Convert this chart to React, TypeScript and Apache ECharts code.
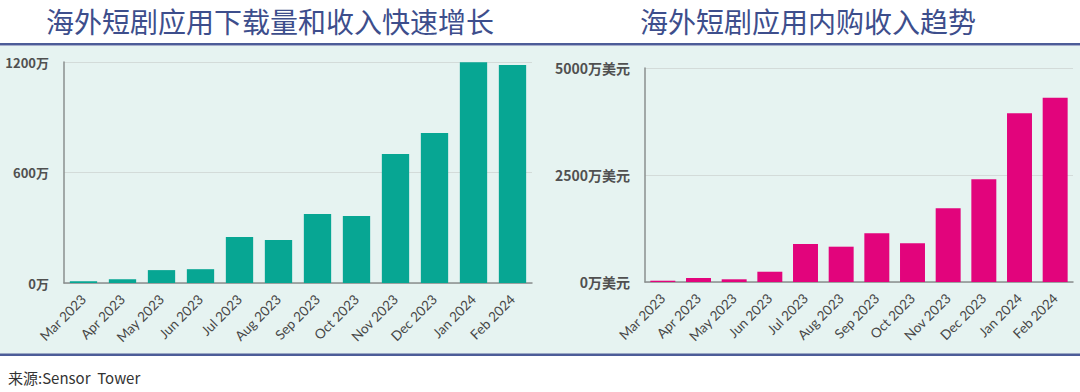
import React, { useEffect, useRef } from "react";
import * as echarts from "echarts";

const months = ["Mar 2023", "Apr 2023", "May 2023", "Jun 2023", "Jul 2023", "Aug 2023", "Sep 2023", "Oct 2023", "Nov 2023", "Dec 2023", "Jan 2024", "Feb 2024"];
const downloads = [10, 20, 70, 75, 250, 233, 375, 364, 700, 815, 1198, 1184];
const revenue = [30, 93, 63, 240, 888, 825, 1138, 904, 1722, 2400, 3942, 4306];
const leftTicks = [0, 600, 1200];
const rightTicks = [0, 2500, 5000];
const leftTitle = "海外短剧应用下载量和收入快速增长";
const rightTitle = "海外短剧应用内购收入趋势";
const sourceText = "来源:Sensor  Tower";

const FONT = "'Noto Sans CJK SC', 'Noto Sans', sans-serif";

export default function App() {
  const ref = useRef<HTMLDivElement>(null);
  useEffect(() => {
    document.body.style.margin = "0";
    const chart = echarts.init(ref.current!, null, { renderer: "svg" });
    const xAxisCommon = (gi: number) => ({
      type: "category",
      gridIndex: gi,
      data: months,
      axisTick: { show: false },
      axisLine: { lineStyle: { color: "#8a8f8e", width: 1.5 } },
      axisLabel: { rotate: 45, fontSize: 13.5, color: "#474747", margin: 14, interval: 0, fontFamily: "Lato, 'Noto Sans', sans-serif" },
    });
    const yAxisCommon = (gi: number, ticks: number[], suffix: string, size: number) => ({
      type: "value",
      gridIndex: gi,
      min: ticks[0],
      max: ticks[ticks.length - 1],
      interval: ticks[1] - ticks[0],
      axisLine: { show: true, lineStyle: { color: "#8a8f8e", width: 1.5 } },
      axisTick: { show: false },
      splitLine: { lineStyle: { color: "#d3dbd9", width: 1 } },
      axisLabel: {
        fontSize: size,
        color: "#505050",
        fontWeight: "bold",
        margin: 15,
        fontFamily: FONT,
        formatter: (v: number) => `${v}${suffix}`,
      },
    });
    chart.setOption({
      animation: false,
      graphic: [
        { type: "rect", shape: { x: 0, y: 46, width: 1080, height: 308 }, style: { fill: "#e6f3f1" }, z: -10 },
        { type: "rect", shape: { x: 0, y: 43, width: 1080, height: 2.5 }, style: { fill: "#4c5c98" } },
        { type: "rect", shape: { x: 0, y: 353.5, width: 1080, height: 2.5 }, style: { fill: "#4c5c98" } },
        { type: "text", x: 270, y: 21, style: { text: leftTitle, font: `28px ${FONT}`, fill: "#3d4e8c", align: "center", verticalAlign: "middle" } },
        { type: "text", x: 808, y: 21, style: { text: rightTitle, font: `28px ${FONT}`, fill: "#3d4e8c", align: "center", verticalAlign: "middle" } },
        { type: "text", x: 8, y: 377, style: { text: sourceText, font: `15px ${FONT}`, fill: "#333", verticalAlign: "middle" } },
      ],
      grid: [
        { left: 64, right: 548, top: 62, bottom: 109 },
        { left: 645, right: 7, top: 68, bottom: 110 },
      ],
      xAxis: [xAxisCommon(0), xAxisCommon(1)],
      yAxis: [yAxisCommon(0, leftTicks, "万", 13), yAxisCommon(1, rightTicks, "万美元", 14)],
      series: [
        { type: "bar", xAxisIndex: 0, yAxisIndex: 0, data: downloads, barCategoryGap: "30%", itemStyle: { color: "#07a693" } },
        { type: "bar", xAxisIndex: 1, yAxisIndex: 1, data: revenue, barCategoryGap: "30%", itemStyle: { color: "#e2047c" } },
      ],
    });
    return () => chart.dispose();
  }, []);
  return <div ref={ref} style={{ width: 1080, height: 392 }} />;
}
